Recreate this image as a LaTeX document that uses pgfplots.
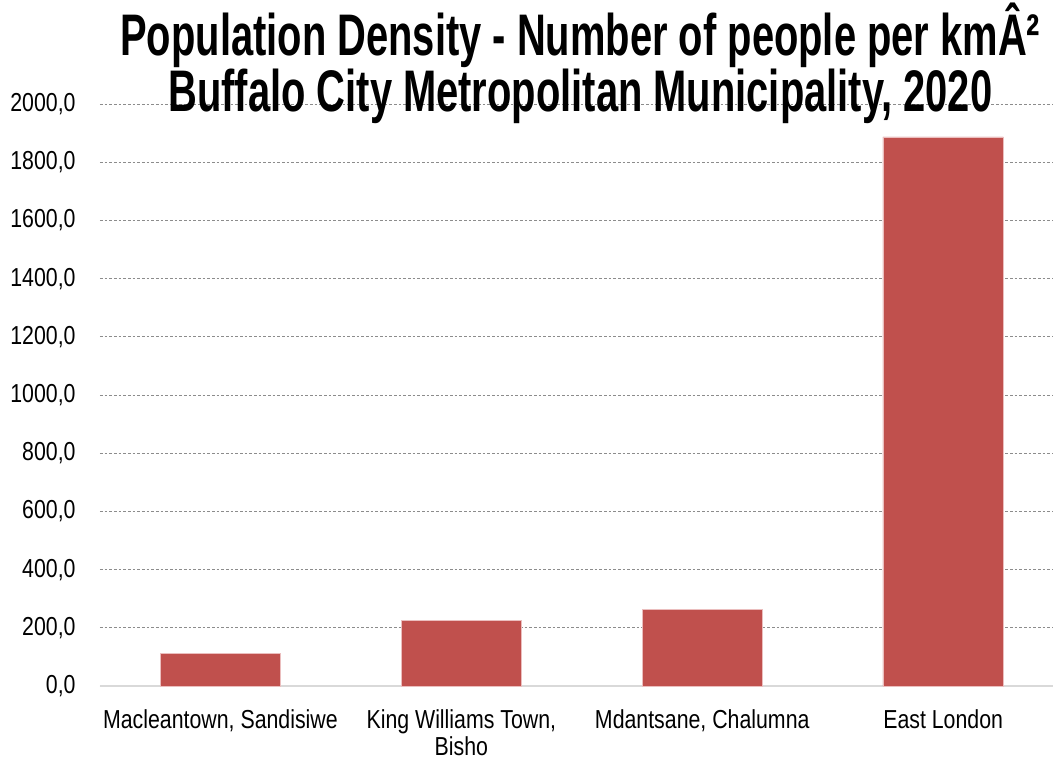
\documentclass[border=0pt]{standalone}
\usepackage{fontspec}
\setmainfont{Liberation Sans}[FakeStretch=0.82]
\newfontfamily\titlefont{Liberation Sans}[FakeStretch=0.68]
\usepackage{pgfplots}
\pgfplotsset{compat=1.18}
\definecolor{barred}{HTML}{C0504D}
\definecolor{gridgray}{HTML}{8C8C8C}
\definecolor{axisgray}{HTML}{D9D9D9}

\begin{document}
\begin{tikzpicture}
\begin{axis}[
    scale only axis,
    width=714.75pt, height=436.5pt,
    xmin=-0.5, xmax=3.456,
    ymin=0, ymax=2000,
    axis x line=bottom, axis y line=left,
    x axis line style={-, draw=axisgray, line width=1.1pt},
    y axis line style={draw=none},
    ytick={0,200,...,2000},
    y tick style={draw=none},
    ymajorgrids,
    grid style={gridgray, dash pattern=on 2pt off 1.5pt, line width=0.6pt},
    yticklabel style={anchor=east, inner sep=0pt, xshift=-16pt},
    /pgf/number format/.cd, fixed, fixed zerofill, precision=1, use comma, 1000 sep={}, assume math mode=true,
    /pgfplots/.cd,
    xtick={0,1,2,3},
    xticklabels={{Macleantown, Sandisiwe},{King Williams Town,\\Bisho},{Mdantsane, Chalumna},{East London}},
    x tick style={draw=none},
    xticklabel style={anchor=north, inner sep=0pt, yshift=-15.5pt, align=center},
    extra x ticks={-0.5,0.5,1.5,2.5},
    extra x tick labels={},
    extra x tick style={major tick length=11pt, tick align=center, tick style={draw=axisgray, line width=1pt}},
    ticklabel style={font=\fontsize{19.5}{20}\selectfont},
    title={Population Density - Number of people per kmÂ²\\Buffalo City Metropolitan Municipality, 2020},
    title style={at={(0.504,1.056)}, anchor=center, align=center, font=\titlefont\bfseries\fontsize{44}{40}\selectfont},
]
\addplot[ybar, bar width=0.5, fill=barred, draw={rgb,255:red,235;green,190;blue,190}, line width=0.5pt]
    coordinates {(0,112) (1,224) (2,264) (3,1887)};
\end{axis}
\pgfresetboundingbox
\path (-75pt,-55.5pt) rectangle (714.75pt,514.5pt);
\end{tikzpicture}
\end{document}
